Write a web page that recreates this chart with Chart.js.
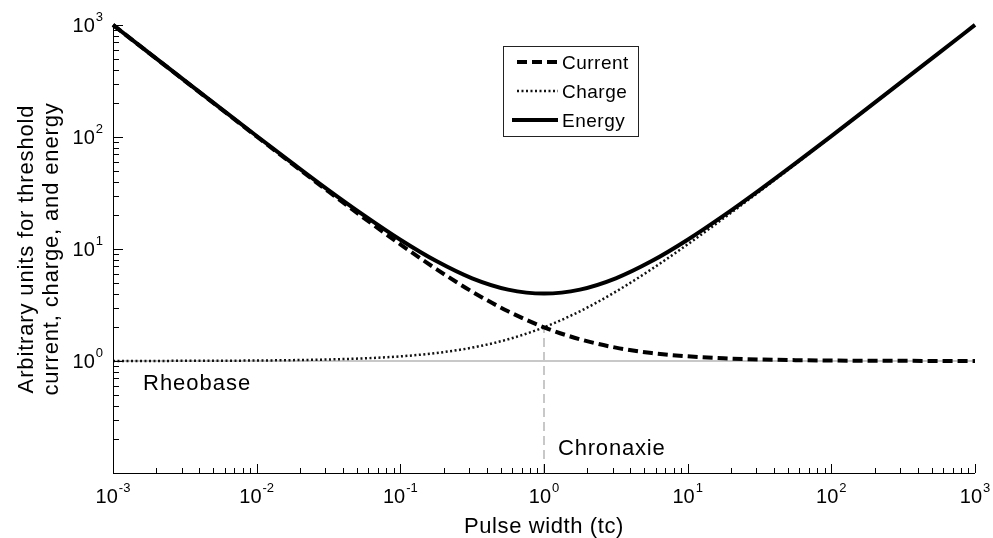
<!DOCTYPE html>
<html>
<head>
<meta charset="utf-8">
<script src="https://cdn.jsdelivr.net/npm/chart.js@4"></script>
<style>
	body { margin: 0; background: #fff; }
	canvas { display: block; }
</style>
</head>
<body>
<canvas id="strengthDuration" width="993" height="538"></canvas>
<script>
// pulse width in units of chronaxie (quarter decades)
var pulseWidth = [0.001, 0.00178, 0.00316, 0.00562, 0.01, 0.0178, 0.0316, 0.0562,
	0.1, 0.178, 0.316, 0.562, 1, 1.78, 3.16, 5.62, 10, 17.8, 31.6, 56.2,
	100, 178, 316, 562, 1000];

// threshold values
var current = [1001, 562.8, 317.5, 178.9, 101, 57.2, 32.6, 18.8,
	11, 6.62, 4.16, 2.78, 2, 1.562, 1.316, 1.178, 1.1, 1.056, 1.032, 1.018,
	1.01, 1.0056, 1.0032, 1.0018, 1.001];
var charge = [1.001, 1.0018, 1.0032, 1.0056, 1.01, 1.018, 1.032, 1.056,
	1.1, 1.178, 1.316, 1.562, 2, 2.78, 4.16, 6.62, 11, 18.8, 32.6, 57.2,
	101, 179, 317, 563, 1001];
var energy = [1002, 563.8, 318.5, 179.9, 102, 58.2, 33.6, 19.85,
	12.1, 7.8, 5.47, 4.34, 4, 4.34, 5.47, 7.8, 12.1, 19.85, 33.6, 58.2,
	102, 180, 318.5, 564, 1002];

// reference lines
var rheobaseX = [0.001, 1000];
var rheobaseY = [1, 1];
var chronaxieX = [1, 1];
var chronaxieY = [0.1, 2];

// axis decades
var xDecades = [-3, -2, -1, 0, 1, 2, 3];
var yDecades = [-1, 0, 1, 2, 3];
var yLabelDecades = [0, 1, 2, 3];

var FONT = "'Liberation Sans', Arial, Helvetica, sans-serif";

function toPoints(xs, ys) {
	return xs.map((x, i) => ({ x: x, y: ys[i] }));
}

function drawText(ctx, text, x, y, size, spacing, align) {
	ctx.font = size + "px " + FONT;
	ctx.letterSpacing = spacing + "px";
	ctx.textAlign = align || "left";
	ctx.fillText(text, x, y);
	ctx.letterSpacing = "0px";
}

// power of ten label with a raised exponent
function powerWidth(ctx, e) {
	ctx.font = "20px " + FONT;
	let w1 = ctx.measureText("10").width;
	ctx.font = "13px " + FONT;
	let w2 = ctx.measureText(String(e)).width;
	return [w1, w2];
}

function drawPower(ctx, e, left, baseline) {
	let w = powerWidth(ctx, e);
	ctx.textAlign = "left";
	ctx.font = "20px " + FONT;
	ctx.fillText("10", left, baseline);
	ctx.font = "13px " + FONT;
	ctx.fillText(String(e), left + w[0] + 1, baseline - 11);
}

var axesPlugin = {
	id: "matlabAxes",
	afterDraw(chart) {
		let ctx = chart.ctx;
		let a = chart.chartArea;
		let xs = chart.scales.x;
		let ys = chart.scales.y;
		ctx.save();
		ctx.strokeStyle = "#000";
		ctx.fillStyle = "#000";
		ctx.lineWidth = 1;

		// axis lines
		ctx.beginPath();
		ctx.moveTo(a.left + 0.5, a.top);
		ctx.lineTo(a.left + 0.5, a.bottom + 0.5);
		ctx.lineTo(a.right, a.bottom + 0.5);
		ctx.stroke();

		// inward ticks
		ctx.beginPath();
		xDecades.forEach((e) => {
			for (let k = 1; k <= 9; k++) {
				let v = k * Math.pow(10, e);
				if (v > xs.max * 1.0001) break;
				let px = Math.round(xs.getPixelForValue(v)) + 0.5;
				ctx.moveTo(px, a.bottom);
				ctx.lineTo(px, a.bottom - (k == 1 ? 9 : 5));
			}
		});
		yDecades.forEach((e) => {
			for (let k = 1; k <= 9; k++) {
				let v = k * Math.pow(10, e);
				if (v > ys.max * 1.0001) break;
				let py = Math.round(ys.getPixelForValue(v)) + 0.5;
				ctx.moveTo(a.left, py);
				ctx.lineTo(a.left + (k == 1 ? 10 : 6), py);
			}
		});
		ctx.stroke();

		// tick labels
		xDecades.forEach((e) => {
			let w = powerWidth(ctx, e);
			let px = xs.getPixelForValue(Math.pow(10, e));
			drawPower(ctx, e, px - (w[0] + w[1] + 1) / 2, 503);
		});
		yLabelDecades.forEach((e) => {
			let w = powerWidth(ctx, e);
			let py = ys.getPixelForValue(Math.pow(10, e));
			drawPower(ctx, e, a.left - 10 - (w[0] + w[1] + 1), py + 7);
		});

		// axis titles
		drawText(ctx, "Pulse width (tc)", (a.left + a.right) / 2, 533, 22, 0.6, "center");
		ctx.save();
		ctx.translate(33, (a.top + a.bottom) / 2);
		ctx.rotate(-Math.PI / 2);
		drawText(ctx, "Arbitrary units for threshold", 0, 0, 22, 0.85, "center");
		drawText(ctx, "current, charge, and energy", 0, 25, 22, 0.85, "center");
		ctx.restore();

		// annotations
		drawText(ctx, "Rheobase", 143, 390, 22, 1, "left");
		drawText(ctx, "Chronaxie", 558, 455, 22, 0.8, "left");

		// legend
		ctx.strokeStyle = "#222";
		ctx.lineWidth = 1;
		ctx.fillStyle = "#fff";
		ctx.fillRect(503.5, 46.5, 135, 90);
		ctx.strokeRect(503.5, 46.5, 135, 90);
		let rows = [62, 91, 120];
		[1, 2, 0].forEach((di, i) => {
			let ds = chart.data.datasets[di];
			ctx.beginPath();
			ctx.strokeStyle = ds.borderColor;
			ctx.lineWidth = ds.borderWidth;
			ctx.setLineDash(ds.borderDash || []);
			ctx.moveTo(ds.borderDash ? 517 : 512, rows[i]);
			ctx.lineTo(558, rows[i]);
			ctx.stroke();
			ctx.setLineDash([]);
			ctx.fillStyle = "#000";
			drawText(ctx, ds.label, 562, rows[i] + 7, 19, 0.5, "left");
		});
		ctx.restore();
	}
};

var chart = new Chart(document.getElementById("strengthDuration"), {
	type: "line",
	data: {
		datasets: [
			{
				label: "Energy",
				data: toPoints(pulseWidth, energy),
				borderColor: "#000",
				borderWidth: 4,
				cubicInterpolationMode: "monotone"
			},
			{
				label: "Current",
				data: toPoints(pulseWidth, current),
				borderColor: "#000",
				borderWidth: 4,
				borderDash: [10, 5],
				cubicInterpolationMode: "monotone"
			},
			{
				label: "Charge",
				data: toPoints(pulseWidth, charge),
				borderColor: "#111",
				borderWidth: 2.5,
				borderDash: [2, 2.5],
				cubicInterpolationMode: "monotone"
			},
			{
				label: "Rheobase",
				data: toPoints(rheobaseX, rheobaseY),
				borderColor: "#c8c8c8",
				borderWidth: 2
			},
			{
				label: "Chronaxie",
				data: toPoints(chronaxieX, chronaxieY),
				borderColor: "#c8c8c8",
				borderWidth: 2,
				borderDash: [9, 5]
			}
		]
	},
	options: {
		responsive: false,
		animation: false,
		clip: false,
		layout: { padding: { left: 113, right: 18, top: 25, bottom: 65 } },
		elements: { point: { radius: 0 } },
		plugins: {
			legend: { display: false },
			tooltip: { enabled: false }
		},
		scales: {
			x: { type: "logarithmic", min: 0.001, max: 1000, display: false },
			y: { type: "logarithmic", min: 0.1, max: 1000, display: false }
		}
	},
	plugins: [axesPlugin]
});
</script>
</body>
</html>
